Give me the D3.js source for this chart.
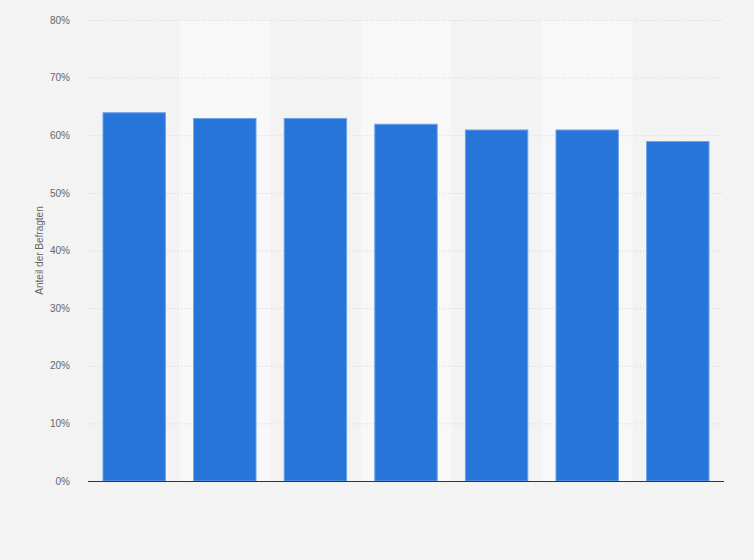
<!DOCTYPE html>
<html><head><meta charset="utf-8">
<script src="https://cdn.jsdelivr.net/npm/d3@7"></script>
<style>body{margin:0;background:#f3f3f3;}svg{display:block;font-family:Arial,"Liberation Sans",sans-serif;}</style>
</head><body><svg id="c" width="754" height="560"></svg>
<script>
const categories = ["1","2","3","4","5","6","7"];
const values = [64, 63, 63, 62, 61, 61, 59];
const yTicks = [0,10,20,30,40,50,60,70,80];
const yTitle = "Anteil der Befragten";

const svg = d3.select("#c");
const m = {l:88, r:30, t:20, b:79};
const W = 754, H = 560;
const x = d3.scaleBand().domain(categories).range([m.l, W-m.r]).paddingInner(0.3).paddingOuter(0.16);
const y = d3.scaleLinear().domain([0,80]).range([H-m.b, m.t]);

svg.append("rect").attr("width",W).attr("height",H).attr("fill","#f3f3f3");
const step = x.step();
svg.append("g").selectAll("rect").data(categories.filter((d,i)=>i%2===1)).join("rect")
  .attr("x", d => x(d) - step*x.paddingInner()/2)
  .attr("width", step)
  .attr("y", m.t).attr("height", H-m.b-m.t)
  .attr("fill","#f8f8f8");

svg.append("g").selectAll("line").data(yTicks.filter(t=>t>0)).join("line")
  .attr("x1", m.l).attr("x2", W-m.r)
  .attr("y1", d=>y(d)+0.5).attr("y2", d=>y(d)+0.5)
  .attr("stroke","#d4d4d4").attr("stroke-dasharray","1,2");

const ax = svg.append("g").attr("transform",`translate(${m.l-15},0)`)
  .call(d3.axisLeft(y).tickValues(yTicks).tickFormat(d=>d+"%").tickSize(0));
ax.select(".domain").remove();
ax.selectAll("text").attr("fill","#666").attr("font-size","10px").attr("font-family","Arial,'Liberation Sans',sans-serif");

svg.append("g").selectAll("rect").data(values).join("rect")
  .attr("x",(d,i)=>x(categories[i])+0.5)
  .attr("width", x.bandwidth()-1)
  .attr("y", d=>y(d)+0.5)
  .attr("height", d=>y(0)-y(d)-0.5)
  .attr("fill","#2775d9").attr("stroke","#6ea3ea").attr("stroke-width",1);

svg.append("line").attr("x1",m.l).attr("x2",W-m.r).attr("y1",y(0)+0.5).attr("y2",y(0)+0.5)
  .attr("stroke","#333").attr("stroke-width",1.2);

svg.append("text").attr("transform",`translate(43,${(m.t+H-m.b)/2}) rotate(-90)`)
  .attr("text-anchor","middle").attr("fill","#666").attr("font-size","10px").text(yTitle);
</script></body></html>
